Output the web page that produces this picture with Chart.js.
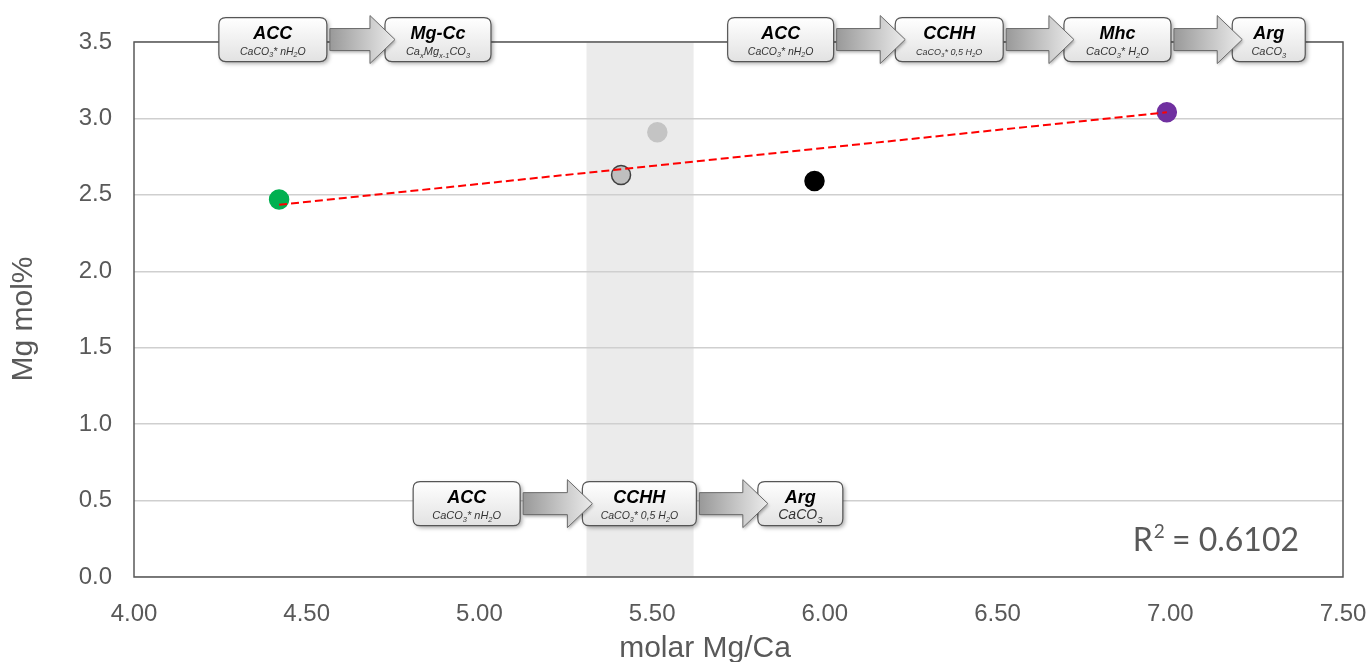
<!DOCTYPE html>
<html>
<head>
<meta charset="utf-8">
<script src="https://cdn.jsdelivr.net/npm/chart.js@4.4.1/dist/chart.umd.min.js"></script>
<style>
  html, body { margin: 0; padding: 0; background: #fff; }
  #wrap { width: 1369px; height: 662px; }
</style>
</head>
<body>
<div id="wrap"><canvas id="chart" width="1369" height="662"></canvas></div>
<script>
// molar Mg/Ca against Mg mol% for the five samples
const mgCa = [4.42, 5.41, 5.515, 5.97, 6.99];
const mgMol = [2.47, 2.63, 2.91, 2.59, 3.04];
const pointFill = ['#00b050', '#bfbfbf', '#c4c4c4', '#000000', '#7030a0'];
const pointEdge = ['#00b050', '#3f3f3f', '#c4c4c4', '#000000', '#7030a0'];

// linear trend (ends) and its fit value
const trendX = [4.42, 6.99];
const trendY = [2.435, 3.04];
const rSquared = '0.6102';

// shaded Mg/Ca range
const bandRange = [5.31, 5.62];

const xTitle = 'molar Mg/Ca';
const yTitle = 'Mg mol%';

const AXIS_GREY = '#595959';
const FONT = '"Liberation Sans", Arial, sans-serif';

// formula lines under each phase name: [text, isSubscript]
const ACC_SUB = [['CaCO'], ['3', 1], ['* nH'], ['2', 1], ['O']];
const CCHH_SUB = [['CaCO'], ['3', 1], ['* 0,5 H'], ['2', 1], ['O']];
const MHC_SUB = [['CaCO'], ['3', 1], ['* H'], ['2', 1], ['O']];
const ARG_SUB = [['CaCO'], ['3', 1]];
const MGCC_SUB = [['Ca'], ['x', 1], ['Mg'], ['x-1', 1], ['CO'], ['3', 1]];

// transformation pathways, boxes placed in axis units
const flowRows = [
  { y: 3.516, boxes: [
    { x: 4.402, w: 108, title: 'ACC', sub: ACC_SUB, subSize: 10.5 },
    { x: 4.880, w: 106, title: 'Mg-Cc', sub: MGCC_SUB, subSize: 11 }
  ] },
  { y: 3.516, boxes: [
    { x: 5.872, w: 106, title: 'ACC', sub: ACC_SUB, subSize: 10.5 },
    { x: 6.360, w: 108, title: 'CCHH', sub: CCHH_SUB, subSize: 9 },
    { x: 6.847, w: 107, title: 'Mhc', sub: MHC_SUB, subSize: 11 },
    { x: 7.285, w: 73, title: 'Arg', sub: ARG_SUB, subSize: 11 }
  ] },
  { y: 0.48, boxes: [
    { x: 4.963, w: 107, title: 'ACC', sub: ACC_SUB, subSize: 11 },
    { x: 5.463, w: 114, title: 'CCHH', sub: CCHH_SUB, subSize: 10.5 },
    { x: 5.929, w: 85, title: 'Arg', sub: ARG_SUB, subSize: 14 }
  ] }
];

const BOX_H = 44;

function roundRect(ctx, x, y, w, h, r) {
  ctx.beginPath();
  ctx.moveTo(x + r, y);
  ctx.lineTo(x + w - r, y);
  ctx.quadraticCurveTo(x + w, y, x + w, y + r);
  ctx.lineTo(x + w, y + h - r);
  ctx.quadraticCurveTo(x + w, y + h, x + w - r, y + h);
  ctx.lineTo(x + r, y + h);
  ctx.quadraticCurveTo(x, y + h, x, y + h - r);
  ctx.lineTo(x, y + r);
  ctx.quadraticCurveTo(x, y, x + r, y);
  ctx.closePath();
}

function drawRich(ctx, parts, cx, baseline, size) {
  const fontFor = p => `italic ${p[1] ? size * 0.68 : size}px ${FONT}`;
  let total = 0;
  parts.forEach(p => { ctx.font = fontFor(p); total += ctx.measureText(p[0]).width; });
  let cur = cx - total / 2;
  ctx.textAlign = 'left';
  ctx.textBaseline = 'alphabetic';
  parts.forEach(p => {
    ctx.font = fontFor(p);
    ctx.fillText(p[0], cur, baseline + (p[1] ? size * 0.28 : 0));
    cur += ctx.measureText(p[0]).width;
  });
}

function drawBox(ctx, left, top, b) {
  ctx.save();
  ctx.shadowColor = 'rgba(0,0,0,0.35)';
  ctx.shadowBlur = 4;
  ctx.shadowOffsetX = 2;
  ctx.shadowOffsetY = 2;
  const g = ctx.createLinearGradient(0, top, 0, top + BOX_H);
  g.addColorStop(0, '#ffffff');
  g.addColorStop(1, '#e2e2e2');
  roundRect(ctx, left, top, b.w, BOX_H, 7);
  ctx.fillStyle = g;
  ctx.fill();
  ctx.restore();
  ctx.save();
  roundRect(ctx, left, top, b.w, BOX_H, 7);
  ctx.strokeStyle = '#555';
  ctx.lineWidth = 1.2;
  ctx.stroke();
  const cx = left + b.w / 2;
  ctx.fillStyle = '#000';
  ctx.font = `italic bold 18px ${FONT}`;
  ctx.textAlign = 'center';
  ctx.textBaseline = 'alphabetic';
  ctx.fillText(b.title, cx, top + 21);
  ctx.fillStyle = '#333';
  drawRich(ctx, b.sub, cx, top + 37, b.subSize);
  ctx.restore();
}

function drawArrow(ctx, x0, x1, cy) {
  const shaft = 11, head = 24, headLen = 25;
  ctx.save();
  ctx.beginPath();
  ctx.moveTo(x0, cy - shaft);
  ctx.lineTo(x1 - headLen, cy - shaft);
  ctx.lineTo(x1 - headLen, cy - head);
  ctx.lineTo(x1, cy);
  ctx.lineTo(x1 - headLen, cy + head);
  ctx.lineTo(x1 - headLen, cy + shaft);
  ctx.lineTo(x0, cy + shaft);
  ctx.closePath();
  const g = ctx.createLinearGradient(x0, 0, x1, 0);
  g.addColorStop(0, '#999999');
  g.addColorStop(1, '#ebebeb');
  ctx.shadowColor = 'rgba(0,0,0,0.3)';
  ctx.shadowBlur = 3;
  ctx.shadowOffsetX = 1;
  ctx.shadowOffsetY = 2;
  ctx.fillStyle = g;
  ctx.fill();
  ctx.shadowColor = 'transparent';
  ctx.strokeStyle = '#6a6a6a';
  ctx.lineWidth = 1;
  ctx.stroke();
  ctx.restore();
}

const decor = {
  id: 'decor',
  beforeDraw(chart) {
    const { ctx, chartArea: a, scales: { x } } = chart;
    const x0 = x.getPixelForValue(bandRange[0]);
    const x1 = x.getPixelForValue(bandRange[1]);
    ctx.save();
    ctx.fillStyle = '#ebebeb';
    ctx.fillRect(x0, a.top, x1 - x0, a.bottom - a.top);
    ctx.restore();
  },
  afterDraw(chart) {
    const { ctx, chartArea: a, scales: { x, y } } = chart;

    // plot frame
    ctx.save();
    ctx.strokeStyle = AXIS_GREY;
    ctx.lineWidth = 1.5;
    ctx.strokeRect(a.left, a.top, a.right - a.left, a.bottom - a.top);
    ctx.restore();

    // axis titles
    ctx.save();
    ctx.fillStyle = AXIS_GREY;
    ctx.font = `30px ${FONT}`;
    ctx.textAlign = 'center';
    ctx.textBaseline = 'alphabetic';
    ctx.fillText(xTitle, 705, 657);
    ctx.translate(32, 319);
    ctx.rotate(-Math.PI / 2);
    ctx.fillText(yTitle, 0, 0);
    ctx.restore();

    // R² of the trend
    ctx.save();
    ctx.fillStyle = AXIS_GREY;
    ctx.textBaseline = 'alphabetic';
    ctx.textAlign = 'left';
    const rFont = '32px Lato, "Open Sans", sans-serif';
    const supFont = '19px Lato, "Open Sans", sans-serif';
    ctx.font = rFont;
    const rest = ' = ' + rSquared;
    const wR = ctx.measureText('R').width;
    const wRest = ctx.measureText(rest).width;
    ctx.font = supFont;
    const wSup = ctx.measureText('2').width;
    const tx = a.right - 44 - (wR + wSup + wRest);
    const base = 551;
    ctx.font = rFont;
    ctx.fillText('R', tx, base);
    ctx.font = supFont;
    ctx.fillText('2', tx + wR + 1, base - 13);
    ctx.font = rFont;
    ctx.fillText(rest, tx + wR + wSup, base);
    ctx.restore();

    // pathway boxes and arrows
    flowRows.forEach(row => {
      const cy = y.getPixelForValue(row.y);
      const top = cy - BOX_H / 2;
      const lefts = row.boxes.map(b => x.getPixelForValue(b.x) - b.w / 2);
      row.boxes.forEach((b, i) => drawBox(ctx, lefts[i], top, b));
      for (let i = 0; i < row.boxes.length - 1; i++) {
        const start = lefts[i] + row.boxes[i].w + 3;
        const end = lefts[i + 1] + 10;
        drawArrow(ctx, start, end, cy);
      }
    });
  }
};

new Chart(document.getElementById('chart'), {
  type: 'scatter',
  data: {
    datasets: [
      {
        type: 'line',
        label: 'trend',
        data: trendX.map((v, i) => ({ x: v, y: trendY[i] })),
        borderColor: '#ff0000',
        borderWidth: 2,
        borderDash: [8, 4],
        pointRadius: 0,
        fill: false,
        order: 0
      },
      {
        label: 'samples',
        data: mgCa.map((v, i) => ({ x: v, y: mgMol[i] })),
        backgroundColor: pointFill,
        borderColor: pointEdge,
        borderWidth: 1.5,
        pointRadius: 9.5,
        order: 1
      }
    ]
  },
  options: {
    responsive: false,
    animation: false,
    devicePixelRatio: 1,
    layout: { padding: { left: 0, right: 26, top: 42, bottom: 0 } },
    plugins: { legend: { display: false }, tooltip: { enabled: false } },
    scales: {
      x: {
        type: 'linear',
        min: 4,
        max: 7.5,
        afterFit: s => { s.height = 85; s.paddingLeft = 0; s.paddingRight = 0; },
        ticks: {
          stepSize: 0.5,
          padding: 15,
          color: AXIS_GREY,
          font: { family: FONT, size: 24 },
          callback: v => v.toFixed(2)
        },
        grid: { display: false },
        border: { display: false }
      },
      y: {
        min: 0,
        max: 3.5,
        afterFit: s => { s.width = 134; s.paddingTop = 0; s.paddingBottom = 0; },
        ticks: {
          stepSize: 0.5,
          padding: 22,
          color: AXIS_GREY,
          font: { family: FONT, size: 24 },
          callback: v => v.toFixed(1)
        },
        grid: { color: '#cfcfcf', lineWidth: 1.5, drawTicks: false },
        border: { display: false }
      }
    }
  },
  plugins: [decor]
});
</script>
</body>
</html>
